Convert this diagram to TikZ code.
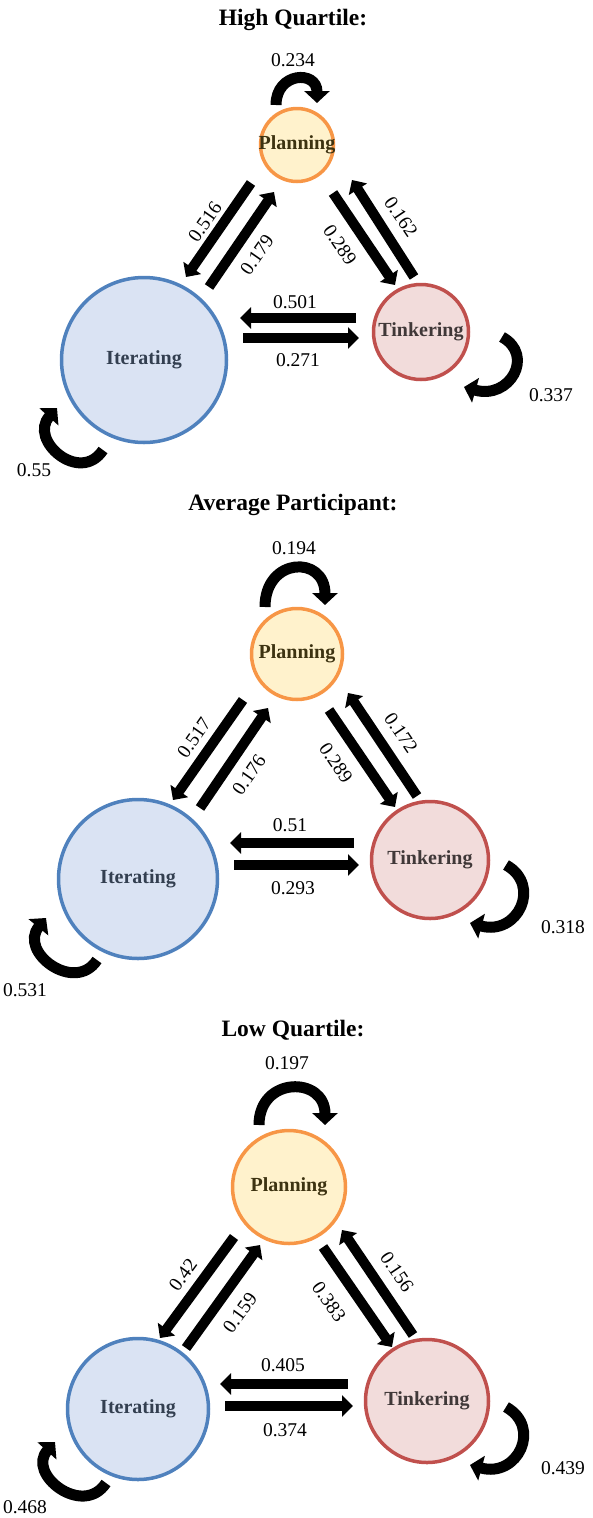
\documentclass[tikz,border=0pt]{standalone}
\usepackage{fontspec}
\setmainfont{Liberation Serif}
\usetikzlibrary{arrows.meta}

\definecolor{planfill}{HTML}{FFF2CC}
\definecolor{planline}{HTML}{F79646}
\definecolor{plantext}{HTML}{3D3311}
\definecolor{iterfill}{HTML}{DAE3F3}
\definecolor{iterline}{HTML}{4F81BD}
\definecolor{itertext}{HTML}{333F50}
\definecolor{tinkfill}{HTML}{F2DCDB}
\definecolor{tinkline}{HTML}{C0504D}
\definecolor{tinktext}{HTML}{403838}

% zero width text, so the circle keeps its minimum size
\newcommand{\stname}[1]{\makebox[0pt]{#1}}

\tikzset{
  stage/.style={circle, line width=3.5pt, inner sep=0pt,
    font=\bfseries\fontsize{20}{22}\selectfont},
  plan/.style={stage, draw=planline, fill=planfill, text=plantext},
  iter/.style={stage, draw=iterline, fill=iterfill, text=itertext},
  tink/.style={stage, draw=tinkline, fill=tinkfill, text=tinktext},
  fat/.style={line width=10pt, -{Triangle[length=11pt,width=21pt]}},
  loopy/.style={line width=11pt, -{Triangle[length=12pt,width=25pt]}},
  lab/.style={font=\fontsize{19.5}{22}\selectfont, inner sep=0pt},
  ttl/.style={font=\bfseries\fontsize{23.5}{26}\selectfont, inner sep=0pt}
}

\begin{document}
\begin{tikzpicture}[x=1pt,y=-1pt]
\useasboundingbox (0,0) rectangle (592,1518);

% High Quartile
\node[ttl] (h1) at (293,20) {High Quartile:};
\node[plan, minimum size=73pt] (P1) at (297,145) {\stname{Planning}};
\node[iter, minimum size=165pt] (I1) at (144,360) {\stname{Iterating}};
\node[tink, minimum size=95pt] (T1) at (421,332) {\stname{Tinkering}};

\draw[fat] ([shift={(-46,38)}]P1.center) -- ([shift={(42,-83)}]I1.center);
\draw[fat] ([shift={(65,-73)}]I1.center) -- ([shift={(-23,47)}]P1.center);
\draw[fat] ([shift={(36,48)}]P1.center) -- ([shift={(-26,-47)}]T1.center);
\draw[fat] ([shift={(-7,-55)}]T1.center) -- ([shift={(55,35)}]P1.center);
\draw[fat] ([shift={(-65,-14)}]T1.center) -- ([shift={(96,-42)}]I1.center);
\draw[fat] ([shift={(99,-22)}]I1.center) -- ([shift={(-62,6)}]T1.center);

\draw[loopy] ([shift={(-21,-40)}]P1.center) .. controls +(0,-33) and +(0,-33) .. ([shift={(20,-42)}]P1.center);
\draw[loopy] ([shift={(81,5)}]T1.center) .. controls +(33,18) and +(46,13) .. ([shift={(43,55)}]T1.center);
\draw[loopy] ([shift={(-41,90)}]I1.center) .. controls +(-23,35) and +(-29,32) .. ([shift={(-87,48)}]I1.center);

\node[lab] (n1pp) at (293,60) {0.234};
\node[lab, rotate=55] (n1pi) at (205,222) {0.516};
\node[lab, rotate=55] (n1ip) at (257,255) {0.179};
\node[lab, rotate=-56] (n1pt) at (340,245) {0.289};
\node[lab, rotate=-56] (n1tp) at (401,217) {0.162};
\node[lab] (n1ti) at (295,302) {0.501};
\node[lab] (n1it) at (298,360) {0.271};
\node[lab] (n1tt) at (551,395) {0.337};
\node[lab] (n1ii) at (34,470) {0.55};

% Average Participant
\node[ttl] (h2) at (293,505) {Average Participant:};
\node[plan, minimum size=91pt] (P2) at (297,654) {\stname{Planning}};
\node[iter, minimum size=159pt] (I2) at (138,879) {\stname{Iterating}};
\node[tink, minimum size=117pt] (T2) at (430,860) {\stname{Tinkering}};

\draw[fat] ([shift={(-54,46)}]P2.center) -- ([shift={(35,-79)}]I2.center);
\draw[fat] ([shift={(62,-71)}]I2.center) -- ([shift={(-29,54)}]P2.center);
\draw[fat] ([shift={(32,56)}]P2.center) -- ([shift={(-35,-53)}]T2.center);
\draw[fat] ([shift={(-13,-64)}]T2.center) -- ([shift={(51,39)}]P2.center);
\draw[fat] ([shift={(-76,-17)}]T2.center) -- ([shift={(92,-36)}]I2.center);
\draw[fat] ([shift={(96,-14)}]I2.center) -- ([shift={(-71,5)}]T2.center);

\draw[loopy] ([shift={(-32,-47)}]P2.center) .. controls +(0,-50) and +(0,-50) .. ([shift={(28,-49)}]P2.center);
\draw[loopy] ([shift={(76,5)}]T2.center) .. controls +(36,20) and +(48,13) .. ([shift={(40,63)}]T2.center);
\draw[loopy] ([shift={(-41,81)}]I2.center) .. controls +(-22,34) and +(-28,34) .. ([shift={(-92,39)}]I2.center);

\node[lab] (n2pp) at (294,548) {0.194};
\node[lab, rotate=55] (n2pi) at (194,738) {0.517};
\node[lab, rotate=55] (n2ip) at (249,775) {0.176};
\node[lab, rotate=-56] (n2pt) at (336,763) {0.289};
\node[lab, rotate=-56] (n2tp) at (401,733) {0.172};
\node[lab] (n2ti) at (290,825) {0.51};
\node[lab] (n2it) at (293,888) {0.293};
\node[lab] (n2tt) at (563,927) {0.318};
\node[lab] (n2ii) at (25,990) {0.531};

% Low Quartile
\node[ttl] (h3) at (293,1030) {Low Quartile:};
\node[plan, minimum size=113pt] (P3) at (289,1187) {\stname{Planning}};
\node[iter, minimum size=141pt] (I3) at (138,1409) {\stname{Iterating}};
\node[tink, minimum size=123pt] (T3) at (427,1401) {\stname{Tinkering}};

\draw[fat] ([shift={(-55,50)}]P3.center) -- ([shift={(22,-71)}]I3.center);
\draw[fat] ([shift={(48,-61)}]I3.center) -- ([shift={(-29,58)}]P3.center);
\draw[fat] ([shift={(34,60)}]P3.center) -- ([shift={(-35,-54)}]T3.center);
\draw[fat] ([shift={(-14,-66)}]T3.center) -- ([shift={(53,43)}]P3.center);
\draw[fat] ([shift={(-79,-17)}]T3.center) -- ([shift={(82,-25)}]I3.center);
\draw[fat] ([shift={(87,-3)}]I3.center) -- ([shift={(-74,5)}]T3.center);

\draw[loopy] ([shift={(-30,-62)}]P3.center) .. controls +(0,-49) and +(0,-49) .. ([shift={(36,-62)}]P3.center);
\draw[loopy] ([shift={(79,6)}]T3.center) .. controls +(36,20) and +(48,13) .. ([shift={(43,64)}]T3.center);
\draw[loopy] ([shift={(-32,74)}]I3.center) .. controls +(-23,35) and +(-29,32) .. ([shift={(-83,33)}]I3.center);

\node[lab] (n3pp) at (287,1063) {0.197};
\node[lab, rotate=54] (n3pi) at (183,1275) {0.42};
\node[lab, rotate=54] (n3ip) at (240,1313) {0.159};
\node[lab, rotate=-55] (n3pt) at (329,1302) {0.383};
\node[lab, rotate=-56] (n3tp) at (397,1272) {0.156};
\node[lab] (n3ti) at (283,1365) {0.405};
\node[lab] (n3it) at (285,1430) {0.374};
\node[lab] (n3tt) at (563,1468) {0.439};
\node[lab] (n3ii) at (25,1507) {0.468};

\end{tikzpicture}
\end{document}
